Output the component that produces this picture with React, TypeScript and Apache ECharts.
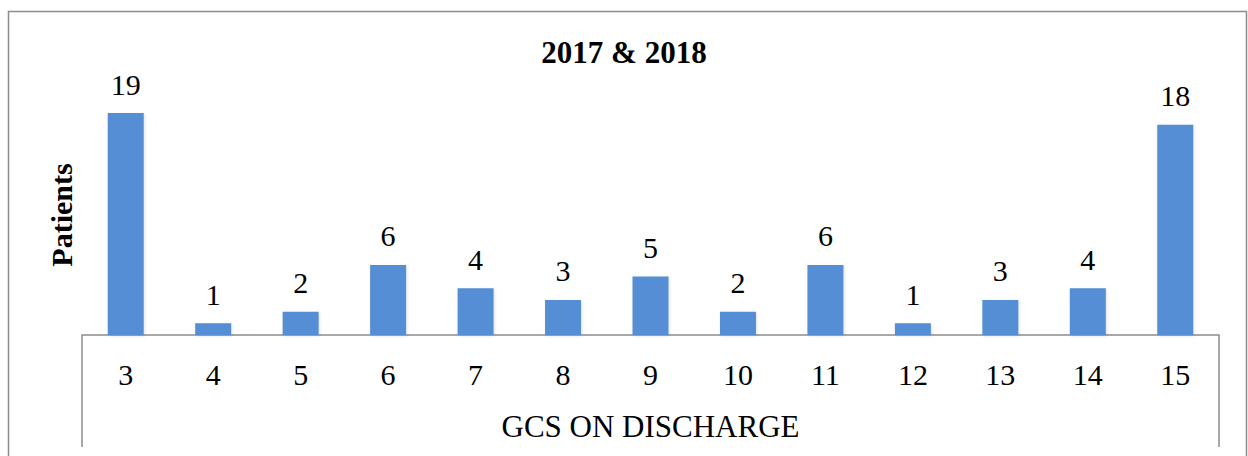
import React, { useEffect, useRef } from "react";
import * as echarts from "echarts";

const categories = ["3", "4", "5", "6", "7", "8", "9", "10", "11", "12", "13", "14", "15"];
const patients = [19, 1, 2, 6, 4, 3, 5, 2, 6, 1, 3, 4, 18];
const titleText = "2017 & 2018";
const xAxisName = "GCS ON DISCHARGE";
const yAxisName = "Patients";

const FONT = "Liberation Serif";
const GRID_LEFT = 82;
const GRID_RIGHT_X = 1219;
const AXIS_Y = 335;

export default function App() {
  const ref = useRef<HTMLDivElement>(null);
  useEffect(() => {
    const chart = echarts.init(ref.current!, null, { renderer: "svg" });
    chart.setOption({
      animation: false,
      backgroundColor: "#ffffff",
      textStyle: { fontFamily: FONT },
      title: {
        text: titleText,
        left: "center",
        top: 32,
        textStyle: { fontFamily: FONT, fontSize: 31, fontWeight: "bold", color: "#000" },
      },
      grid: { left: GRID_LEFT, right: 1248 - GRID_RIGHT_X, top: 101.4, bottom: 456 - AXIS_Y },
      xAxis: {
        type: "category",
        data: categories,
        axisLine: { show: true, lineStyle: { color: "#8c8c8c", width: 1.5 } },
        axisTick: { show: false },
        axisLabel: { fontFamily: FONT, fontSize: 30, color: "#000", margin: 24 },
        name: xAxisName,
        nameLocation: "middle",
        nameGap: 76,
        nameTextStyle: { fontFamily: FONT, fontSize: 31, color: "#000" },
      },
      yAxis: {
        type: "value",
        min: 0,
        max: 20,
        show: false,
      },
      series: [
        {
          type: "bar",
          data: patients,
          barWidth: 36,
          itemStyle: {
            color: "#558ed5",
            shadowColor: "rgba(0,0,0,0.12)",
            shadowBlur: 3,
            shadowOffsetX: 1,
            shadowOffsetY: 1,
          },
          label: {
            show: true,
            position: "top",
            distance: 14,
            fontFamily: FONT,
            fontSize: 30,
            color: "#000",
            formatter: "{v|{c}}",
            rich: {
              v: { fontFamily: FONT, fontSize: 30, color: "#000" },
            },
          },
        },
      ],
      graphic: [
        {
          type: "rect",
          shape: { x: 8.5, y: 11.5, width: 1238, height: 460 },
          style: { fill: "none", stroke: "#8c8c8c", lineWidth: 1.5 },
          silent: true,
        },
        {
          type: "line",
          shape: { x1: GRID_LEFT, y1: AXIS_Y, x2: GRID_LEFT, y2: 447 },
          style: { stroke: "#8c8c8c", lineWidth: 1.5 },
        },
        {
          type: "line",
          shape: { x1: GRID_RIGHT_X, y1: AXIS_Y, x2: GRID_RIGHT_X, y2: 447 },
          style: { stroke: "#8c8c8c", lineWidth: 1.5 },
        },
        {
          type: "text",
          x: 61,
          y: 215,
          rotation: Math.PI / 2,
          style: {
            text: yAxisName,
            fontFamily: FONT,
            fontSize: 30,
            fontWeight: "bold",
            fill: "#000",
            align: "center",
            verticalAlign: "middle",
          },
        },
      ],
    });
    return () => chart.dispose();
  }, []);
  return (
    <div
      ref={ref}
      style={{ position: "absolute", left: 0, top: 0, width: 1248, height: 456 }}
    />
  );
}
